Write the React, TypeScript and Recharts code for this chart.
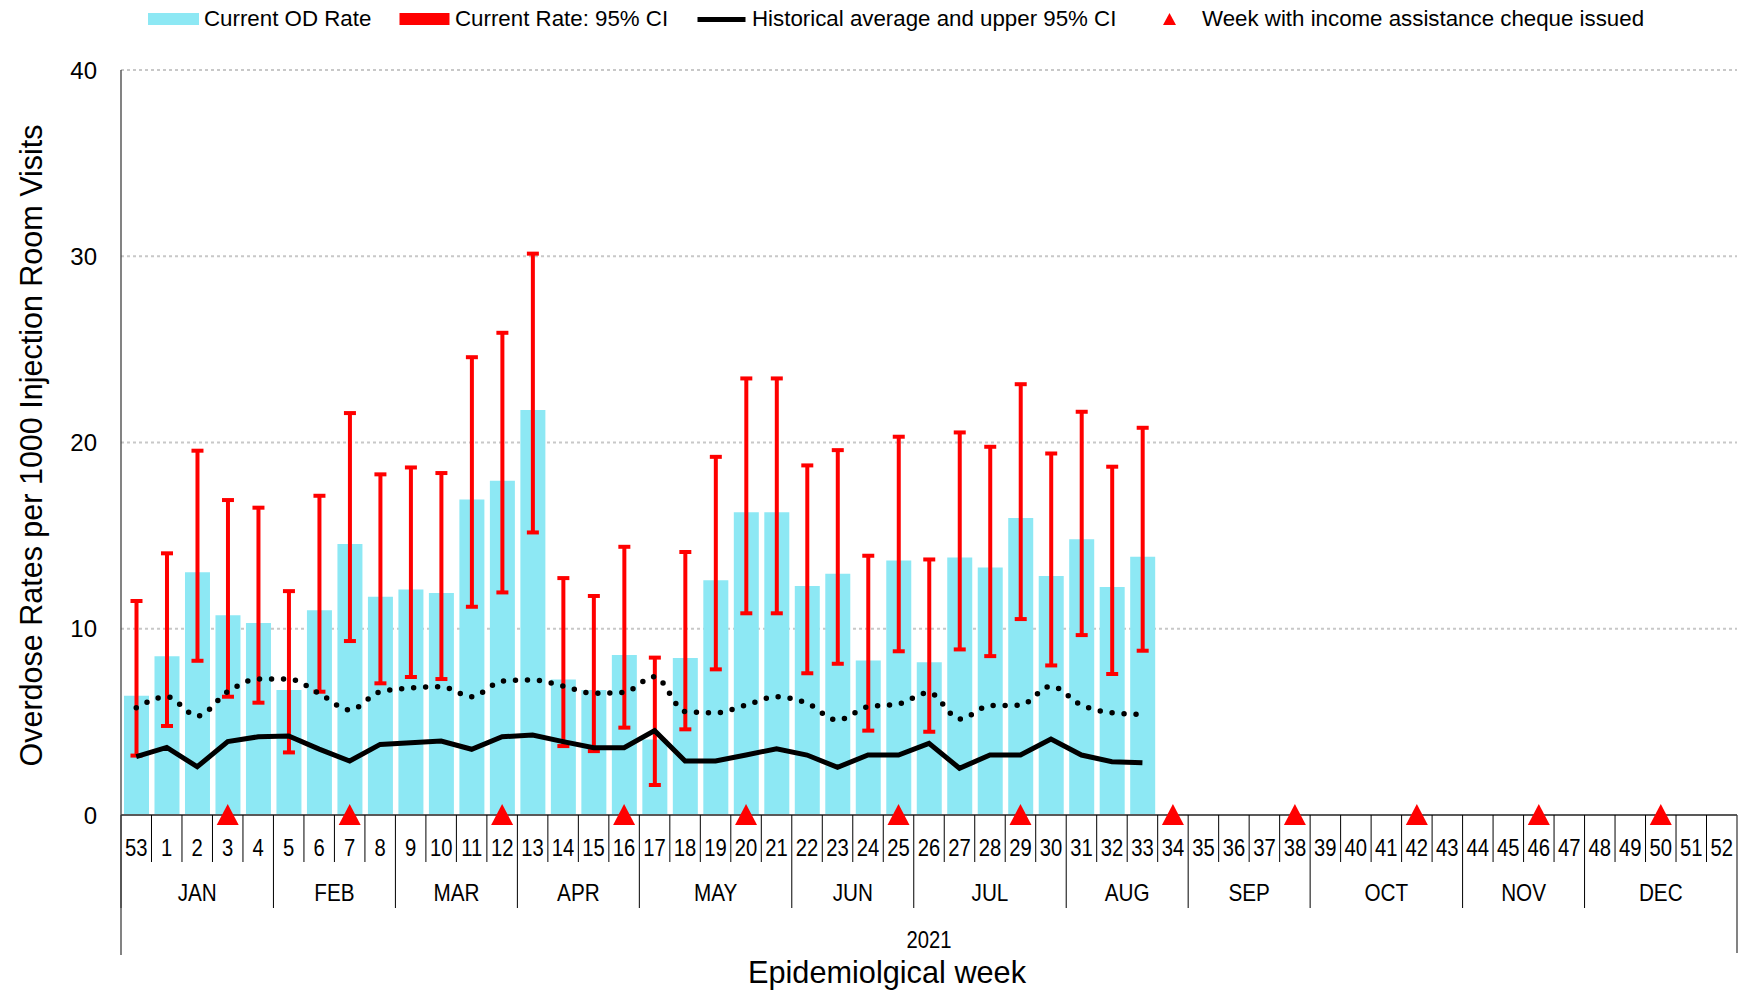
import React from 'react';
import {
  ComposedChart,
  Bar,
  Line,
  Scatter,
  XAxis,
  YAxis,
  CartesianGrid,
  ErrorBar,
  Legend,
} from 'recharts';

// ---------- data ----------
const WEEKS = [
  '53', '1', '2', '3', '4', '5', '6', '7', '8', '9', '10', '11', '12', '13', '14', '15', '16', '17',
  '18', '19', '20', '21', '22', '23', '24', '25', '26', '27', '28', '29', '30', '31', '32', '33', '34',
  '35', '36', '37', '38', '39', '40', '41', '42', '43', '44', '45', '46', '47', '48', '49', '50', '51', '52',
];

const MONTHS = ['JAN', 'FEB', 'MAR', 'APR', 'MAY', 'JUN', 'JUL', 'AUG', 'SEP', 'OCT', 'NOV', 'DEC'];
const MONTH_WEEKS = [5, 4, 4, 4, 5, 4, 5, 4, 4, 5, 4, 5];
const YEAR_LABEL = '2021';
const YEAR_WEEK = '26';

// weeks 53, 1..33
const OD_RATE = [
  6.4, 8.52, 13.04, 10.72, 10.31, 6.71, 11.0, 14.55, 11.72, 12.11, 11.92, 16.94, 17.95, 21.74, 7.28,
  6.71, 8.59, 4.05, 8.43, 12.61, 16.25, 16.25, 12.29, 12.95, 8.3, 13.67, 8.2, 13.83, 13.29, 15.94,
  12.83, 14.8, 12.24, 13.87,
];
const CI_LOW = [
  3.19, 4.78, 8.28, 6.35, 6.03, 3.36, 6.62, 9.34, 7.07, 7.41, 7.3, 11.18, 11.95, 15.17, 3.7, 3.43,
  4.69, 1.61, 4.6, 7.82, 10.83, 10.83, 7.61, 8.12, 4.53, 8.79, 4.47, 8.89, 8.53, 10.52, 8.03, 9.66,
  7.57, 8.82,
];
const CI_HIGH = [
  11.49, 14.05, 19.56, 16.91, 16.5, 12.02, 17.14, 21.58, 18.29, 18.66, 18.36, 24.58, 25.89, 30.14,
  12.72, 11.76, 14.4, 8.45, 14.12, 19.23, 23.44, 23.44, 18.77, 19.59, 13.92, 20.31, 13.72, 20.54,
  19.77, 23.13, 19.41, 21.65, 18.7, 20.79,
];
const HIST_AVG = [
  3.13, 3.63, 2.59, 3.94, 4.2, 4.24, 3.54, 2.9, 3.79, 3.88, 3.97, 3.53, 4.2, 4.29, 3.94, 3.61, 3.61,
  4.53, 2.9, 2.9, 3.22, 3.56, 3.22, 2.56, 3.22, 3.22, 3.85, 2.51, 3.22, 3.22, 4.08, 3.22, 2.86, 2.81,
];
const HIST_UPPER = [
  5.76, 6.35, 5.31, 6.62, 7.3, 7.3, 6.53, 5.64, 6.62, 6.82, 6.89, 6.35, 7.19, 7.25, 6.92, 6.53, 6.59,
  7.43, 5.55, 5.49, 5.9, 6.35, 6.0, 5.1, 5.81, 5.96, 6.57, 5.15, 5.87, 5.9, 6.92, 5.9, 5.49, 5.4,
];
const CHEQUE_WEEKS = ['3', '7', '12', '16', '20', '25', '29', '34', '38', '42', '46', '50'];

const Y_TICKS = [0, 10, 20, 30, 40];

const LEGEND_NAMES = [
  'Current OD Rate',
  'Current Rate: 95% CI',
  'Historical average and upper 95% CI',
  'Week with income assistance cheque issued',
];

const data = WEEKS.map((w, i) => {
  const r = i < OD_RATE.length ? OD_RATE[i] : null;
  return {
    week: w,
    rate: r,
    err: r != null ? [r - CI_LOW[i], CI_HIGH[i] - r] : null,
    hist: i < HIST_AVG.length ? HIST_AVG[i] : null,
    upper: i < HIST_UPPER.length ? HIST_UPPER[i] : null,
    cheque: CHEQUE_WEEKS.includes(w) ? 0 : null,
  };
});

const MONTH_START: number[] = [];
MONTH_WEEKS.reduce((acc, n) => {
  MONTH_START.push(acc);
  return acc + n;
}, 0);

// ---------- style ----------
const W = 1750;
const H = 992;
const MARGIN = { top: 70, right: 13, left: 0, bottom: 0 };
const Y_AXIS_W = 121;
const X_AXIS_H = 177;
const FONT = '"Liberation Sans", Arial, sans-serif';
const BAR_COLOR = '#8DE8F4';
const RED = '#FF0000';

const WeekTick = (props: any) => {
  const { x, y, payload } = props;
  const idx = WEEKS.indexOf(String(payload.value));
  const half =
    typeof payload?.offset === 'number' && payload.offset > 0
      ? payload.offset
      : (W - MARGIN.right - Y_AXIS_W) / WEEKS.length / 2;
  const left = x - half;
  const right = x + half;
  const m = MONTH_START.indexOf(idx);
  return (
    <g>
      <line x1={left} x2={left} y1={y} y2={y + 47} stroke="#000" strokeWidth={1} />
      <text
        transform={`translate(${x},${y + 41}) scale(0.88,1)`}
        textAnchor="middle"
        fontSize={23}
        fill="#000"
      >
        {payload.value}
      </text>
      {m >= 0 && (
        <g>
          <line x1={left} x2={left} y1={y + 47} y2={y + 93} stroke="#000" strokeWidth={1} />
          <text
            transform={`translate(${left + MONTH_WEEKS[m] * half},${y + 86}) scale(0.9,1)`}
            textAnchor="middle"
            fontSize={23}
            fill="#000"
          >
            {MONTHS[m]}
          </text>
        </g>
      )}
      {idx === 0 && <line x1={left} x2={left} y1={y} y2={y + 140} stroke="#404040" strokeWidth={1.3} />}
      {idx === WEEKS.length - 1 && (
        <line x1={right} x2={right} y1={y} y2={y + 138} stroke="#404040" strokeWidth={1.3} />
      )}
      {String(payload.value) === YEAR_WEEK && (
        <text
          transform={`translate(${x},${y + 133}) scale(0.88,1)`}
          textAnchor="middle"
          fontSize={23}
          fill="#000"
        >
          {YEAR_LABEL}
        </text>
      )}
    </g>
  );
};

const TriangleShape = (props: any) => {
  const { cx, cy, payload } = props;
  if (payload == null || payload.cheque == null || cx == null || cy == null || isNaN(cy)) return <g />;
  return (
    <polygon
      points={`${cx},${cy - 11} ${cx - 11},${cy + 10} ${cx + 11},${cy + 10}`}
      fill={RED}
    />
  );
};

const renderLegend = () => (
  <svg width={W} height={40} style={{ display: 'block', fontFamily: FONT }}>
    <rect x={148} y={13} width={51} height={12} fill={BAR_COLOR} />
    <text x={204} y={26} fontSize={22.3} fill="#000">
      {LEGEND_NAMES[0]}
    </text>
    <rect x={399.5} y={13} width={50} height={12} fill={RED} />
    <text x={455} y={26} fontSize={22.3} fill="#000">
      {LEGEND_NAMES[1]}
    </text>
    <rect x={697.5} y={17} width={48} height={5} fill="#000" />
    <text x={752} y={26} fontSize={22.3} fill="#000">
      {LEGEND_NAMES[2]}
    </text>
    <polygon points="1169.5,13 1163,25 1176,25" fill={RED} />
    <text x={1202} y={26} fontSize={22.3} fill="#000">
      {LEGEND_NAMES[3]}
    </text>
  </svg>
);

const YTitle = (props: any) => {
  const vb = props.viewBox || { x: 0, y: MARGIN.top, width: Y_AXIS_W, height: H - MARGIN.top - X_AXIS_H };
  const cx = vb.x + 42;
  const cy = vb.y + vb.height / 2 + 3;
  return (
    <text transform={`translate(${cx},${cy}) rotate(-90)`} textAnchor="middle" fontSize={30.5} fill="#000">
      Overdose Rates per 1000 Injection Room Visits
    </text>
  );
};

const XTitle = (props: any) => {
  const vb = props.viewBox || { x: Y_AXIS_W, y: H - X_AXIS_H, width: W - Y_AXIS_W - MARGIN.right, height: X_AXIS_H };
  const cx = vb.x + vb.width / 2 - 42;
  const cy = vb.y + 168;
  return (
    <text x={cx} y={cy} textAnchor="middle" fontSize={30.7} fill="#000">
      Epidemiolgical week
    </text>
  );
};

export default function App() {
  return (
    <div style={{ position: 'absolute', left: 0, top: 0, width: W, height: H, background: '#fff', fontFamily: FONT }}>
      <ComposedChart width={W} height={H} data={data} margin={MARGIN}>
        <CartesianGrid vertical={false} stroke="#c8c8c8" strokeDasharray="3 3" strokeWidth={2} />
        <XAxis
          dataKey="week"
          type="category"
          interval={0}
          height={X_AXIS_H}
          tickSize={0}
          tickMargin={0}
          tickLine={false}
          axisLine={{ stroke: '#595959', strokeWidth: 2 }}
          tick={<WeekTick />}
          label={<XTitle />}
        />
        <YAxis
          domain={[0, 40]}
          ticks={Y_TICKS}
          width={Y_AXIS_W}
          tickSize={0}
          tickMargin={24}
          tickLine={false}
          axisLine={{ stroke: '#404040', strokeWidth: 1.3 }}
          tick={{ fontSize: 24, fill: '#000' }}
          label={<YTitle />}
        />
        <YAxis
          yAxisId="right"
          orientation="right"
          domain={[0, 40]}
          width={0}
          tick={false}
          tickLine={false}
          axisLine={{ stroke: '#404040', strokeWidth: 1.3 }}
        />
        <Legend verticalAlign="middle" wrapperStyle={{ top: 0, left: 0, width: W, height: 40 }} content={renderLegend} />
        <Bar dataKey="rate" name={LEGEND_NAMES[0]} fill={BAR_COLOR} barSize={25} isAnimationActive={false}>
          <ErrorBar dataKey="err" width={6} strokeWidth={4} stroke={RED} direction="y" />
        </Bar>
        <Line
          dataKey="upper"
          type="monotone"
          stroke="#000"
          strokeWidth={5.5}
          strokeDasharray="0 12"
          strokeLinecap="round"
          dot={false}
          activeDot={false}
          isAnimationActive={false}
        />
        <Line
          dataKey="hist"
          name={LEGEND_NAMES[2]}
          type="linear"
          stroke="#000"
          strokeWidth={5}
          dot={false}
          activeDot={false}
          isAnimationActive={false}
        />
        <Scatter dataKey="cheque" name={LEGEND_NAMES[3]} shape={TriangleShape} isAnimationActive={false} />
      </ComposedChart>
    </div>
  );
}
